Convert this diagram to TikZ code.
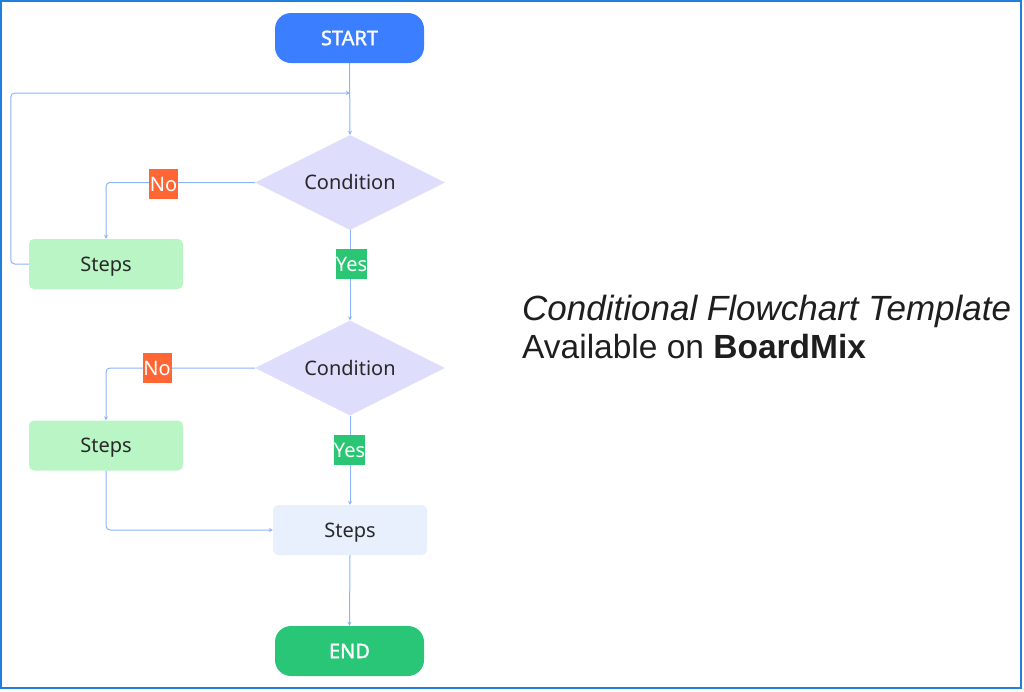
\documentclass[tikz,border=0pt]{standalone}
\usepackage{fontspec}
\setmainfont{Noto Sans}
\newfontfamily\termfont[FakeBold=1.6]{Noto Sans}
\newfontfamily\titlefont{Liberation Sans}
\usetikzlibrary{shapes.geometric,arrows.meta}
\definecolor{startblue}{RGB}{59,126,255}
\definecolor{endgreen}{RGB}{42,198,119}
\definecolor{condfill}{RGB}{222,222,252}
\definecolor{stepgreen}{RGB}{186,245,198}
\definecolor{steplight}{RGB}{232,240,254}
\definecolor{nored}{RGB}{255,102,51}
\definecolor{yesgreen}{RGB}{43,198,115}
\definecolor{linkblue}{RGB}{140,180,250}
\definecolor{framecol}{RGB}{30,128,220}
\definecolor{textdark}{RGB}{40,40,40}
\definecolor{titledark}{RGB}{30,30,30}
\tikzset{
  capbox/.style={text height=14.3pt, text depth=0pt},
  termbox/.style={rectangle, rounded corners=16pt, minimum width=149pt, minimum height=50pt, inner sep=0pt, text=white, capbox, font=\termfont\fontsize{20}{24}\selectfont},
  stepbox/.style={rectangle, rounded corners=5pt, minimum width=154pt, minimum height=50pt, inner sep=0pt, text=textdark, capbox, font=\fontsize{20}{24}\selectfont},
  condbox/.style={diamond, aspect=2, fill=condfill, minimum width=190pt, minimum height=95pt, inner sep=0pt, text=textdark, capbox, font=\fontsize{20}{24}\selectfont},
  lbl/.style={rectangle, minimum width=29pt, minimum height=30pt, inner sep=0pt, text=white, capbox, font=\fontsize{20}{24}\selectfont},
  link/.style={draw=linkblue, line width=1pt, -{Stealth[length=4pt,width=4pt]}},
}
\begin{document}
\begin{tikzpicture}[x=1pt,y=-1pt]
\useasboundingbox (0,0) rectangle (1024,691);
\draw[framecol, line width=2pt] (1,1) rectangle (1021,688);

\node[termbox, fill=startblue] (start) at (349.5,38) {START};
\node[condbox] (c1) at (350,182.5) {Condition};
\node[stepbox, fill=stepgreen] (s1) at (106,264) {Steps};
\node[condbox] (c2) at (350,368) {Condition};
\node[stepbox, fill=stepgreen] (s2) at (106,445.5) {Steps};
\node[stepbox, fill=steplight] (s3) at (350,530) {Steps};
\node[termbox, fill=endgreen] (end) at (349.5,651) {END};
\coordinate (j1) at (350,93);

\draw[link] (start.south) -- (c1.north);
\draw[link, rounded corners=4pt] (s1.west) -- ++(-18,0) |- (j1);
\draw[link, rounded corners=4pt] (c1.west) -| (s1.north);
\draw[link] (c1.south) -- (c2.north);
\draw[link, rounded corners=4pt] (c2.west) -| (s2.north);
\draw[link] (c2.south) -- (s3.north);
\draw[link, rounded corners=4pt] (s2.south) |- (s3.west);
\draw[link] (s3.south) -- (end.north);

\node[lbl, fill=nored] (no1) at (163.5,184) {No};
\node[lbl, fill=yesgreen] (yes1) at (351.5,264) {Yes};
\node[lbl, fill=nored] (no2) at (157,368) {No};
\node[lbl, fill=yesgreen] (yes2) at (349.5,450) {Yes};

\node[anchor=base west, inner sep=0pt, text=titledark, font=\titlefont\fontsize{35}{40}\selectfont] (title1) at (522,320) {\itshape Conditional Flowchart Template};
\node[anchor=base west, inner sep=0pt, text=titledark, font=\titlefont\fontsize{33.5}{40}\selectfont] (title2) at (522,358) {Available on \textbf{BoardMix}};
\end{tikzpicture}
\end{document}
